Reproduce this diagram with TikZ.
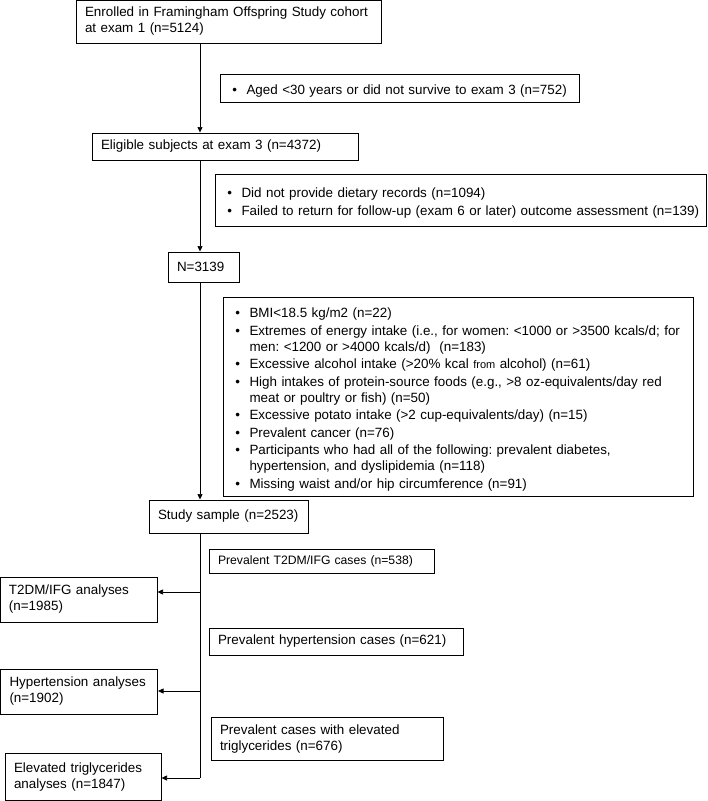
\documentclass[tikz,border=0pt]{standalone}
\usepackage{fontspec}
\setmainfont{Liberation Sans}
\usepackage{enumitem}
\setlist[itemize]{nosep, itemsep=1.5pt, leftmargin=22.5pt, labelwidth=5pt, labelsep=9.5pt, label=\textbullet}
\usetikzlibrary{arrows.meta}
\tikzset{
  box/.style={draw, line width=1pt, inner xsep=9pt, inner ysep=0pt, align=left},
  listbox/.style={box, inner xsep=4pt},
  arr/.style={line width=0.7pt, -{Triangle[length=5.5pt, width=5pt]}}
}
\frenchspacing

\begin{document}
\begin{tikzpicture}[x=1pt, y=-1pt, font=\fontsize{13.4}{16}\selectfont]
% page
\useasboundingbox (0,0) rectangle (708,801);

% coordinates
\coordinate (S) at (200,0);
\coordinate (b1) at (200,592);
\coordinate (b2) at (200,691);
\coordinate (b3) at (200,778);

% main flow
\node[box, minimum width=305, minimum height=43, text width=287] (enrol) at (228.5,21.5)
  {Enrolled in Framingham Offspring Study cohort\\at exam 1 (n=5124)};
\node[box, minimum width=266, minimum height=27, text width=248] (elig) at (225,146.5)
  {Eligible subjects at exam 3 (n=4372)};
\node[box, minimum width=71, minimum height=30, text width=53] (n3139) at (203.5,267)
  {N=3139};
\node[box, minimum width=159, minimum height=33, text width=141] (study) at (228.5,516.5)
  {Study sample (n=2523)};

% exclusions
\node[listbox, minimum width=359, minimum height=28, text width=351] (aged) at (399.5,88)
  {\begin{itemize}\item Aged <30 years or did not survive to exam 3 (n=752)\end{itemize}};
\node[listbox, minimum width=491, minimum height=52, text width=483] (diet) at (460.5,200)
  {\begin{itemize}
   \item Did not provide dietary records (n=1094)
   \item Failed to return for follow-up (exam 6 or later) outcome assessment (n=139)
   \end{itemize}};
\node[listbox, minimum width=470, minimum height=199, text width=462] (excl) at (458,396.5)
  {\begin{itemize}
   \item BMI<18.5 kg/m2 (n=22)
   \item Extremes of energy intake (i.e., for women: <1000 or >3500 kcals/d; for\newline
         men: <1200 or >4000 kcals/d)\ \ (n=183)
   \item Excessive alcohol intake (>20\% kcal {\fontsize{11}{16}\selectfont from} alcohol) (n=61)
   \item High intakes of protein-source foods (e.g., >8 oz-equivalents/day red\newline
         meat or poultry or fish) (n=50)
   \item Excessive potato intake (>2 cup-equivalents/day) (n=15)
   \item Prevalent cancer (n=76)
   \item Participants who had all of the following: prevalent diabetes,\newline
         hypertension, and dyslipidemia (n=118)
   \item Missing waist and/or hip circumference (n=91)
   \end{itemize}};

% prevalent cases
\node[box, minimum width=225, minimum height=24, text width=207,
  font=\fontsize{12.2}{15}\selectfont] (t2dmcase) at (321.5,561)
  {Prevalent T2DM/IFG cases (n=538)};
\node[box, minimum width=254, minimum height=27, text width=236] (htcase) at (336,641.5)
  {Prevalent hypertension cases (n=621)};
\node[box, minimum width=232, minimum height=43, text width=214] (tgcase) at (327,739)
  {Prevalent cases with elevated\\triglycerides (n=676)};

% analyses
\node[box, minimum width=157, minimum height=45, text width=139] (t2dm) at (78.5,599.5)
  {T2DM/IFG analyses\\(n=1985)};
\node[box, minimum width=157, minimum height=45, text width=139] (ht) at (79,691.5)
  {Hypertension analyses\\(n=1902)};
\node[box, minimum width=156, minimum height=47, text width=138] (tg) at (83,777)
  {Elevated triglycerides\\analyses (n=1847)};

% arrows
\draw[arr] (S |- enrol.south) -- (S |- elig.north);
\draw[arr] (S |- elig.south) -- (S |- n3139.north);
\draw[arr] (S |- n3139.south) -- (S |- study.north);
\draw[line width=0.7pt] (S |- study.south) -- (b3);
\draw[arr] (b1) -- (b1 -| t2dm.east);
\draw[arr] (b2) -- (b2 -| ht.east);
\draw[arr] (b3) -- (b3 -| tg.east);

\end{tikzpicture}
\end{document}
